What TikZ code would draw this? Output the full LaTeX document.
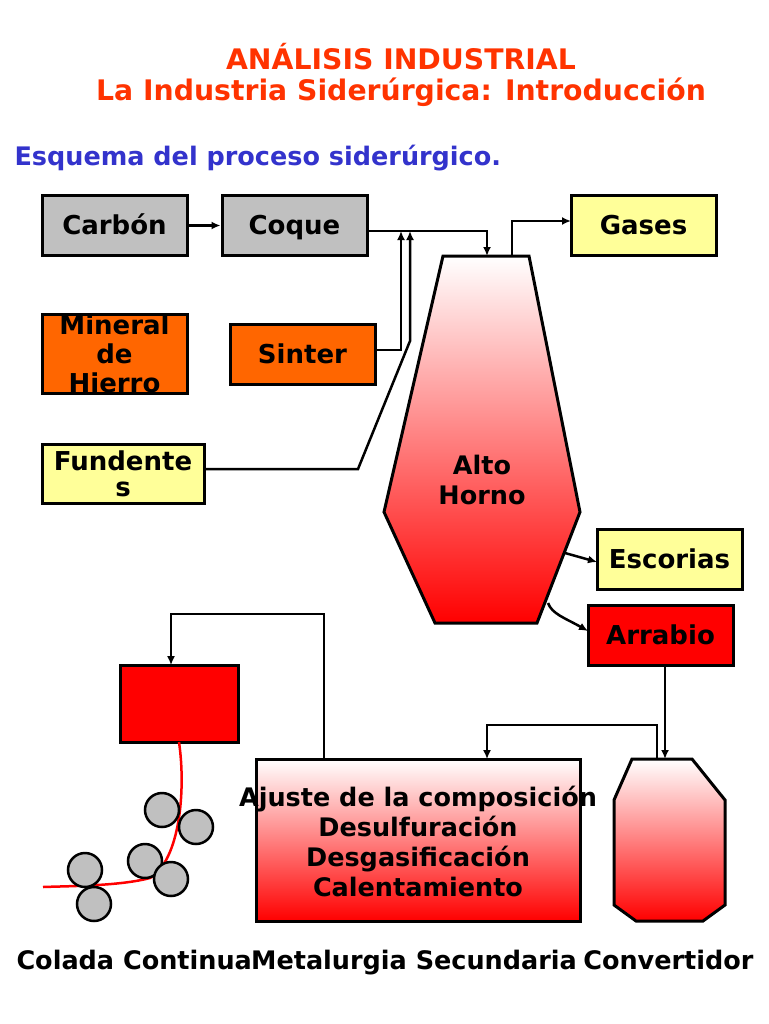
\documentclass[tikz,border=0pt]{standalone}
\usepackage{fontspec}
\setmainfont{DejaVu Sans}
\usetikzlibrary{arrows.meta}
\definecolor{tit}{HTML}{FF3300}
\definecolor{blu}{HTML}{3333CC}
\definecolor{gr}{HTML}{C0C0C0}
\definecolor{ye}{HTML}{FFFF99}
\definecolor{orn}{HTML}{FF6600}
\begin{document}
\begin{tikzpicture}[x=1pt,y=-1pt,
  box/.style={draw=black,line width=3pt,font=\bfseries\fontsize{26}{30}\selectfont,align=center},
  one/.style={text height=19pt,text depth=0pt},
  con/.style={line width=2.5pt,-{Latex[length=9pt,width=8pt]}},
  thin/.style={line width=1.5pt,-{Latex[length=9pt,width=8pt]}},
  lab/.style={font=\bfseries\fontsize{25.5}{30}\selectfont}]
\useasboundingbox (0,0) rectangle (768,1024);
\node[tit,font=\bfseries\fontsize{28.3}{34}\selectfont] (t1) at (401,57) {ANÁLISIS INDUSTRIAL};
\node[tit,font=\bfseries\fontsize{28.3}{34}\selectfont] (t2) at (401,92) {La Industria Siderúrgica: Introducción};
\node[blu,font=\bfseries\fontsize{25.5}{32}\selectfont,anchor=west] (t3) at (11,158) {Esquema del proceso siderúrgico.};
\node[box,one,fill=gr,minimum width=145pt,minimum height=59pt] (carb) at (114.5,225.5) {Carbón};
\node[box,one,fill=gr,minimum width=145pt,minimum height=59pt] (coq) at (294.5,225.5) {Coque};
\node[box,one,fill=ye,minimum width=145pt,minimum height=59pt] (gas) at (643.5,225.5) {Gases};
\node[box,fill=orn,minimum width=145pt,minimum height=76pt,inner sep=0pt] (min) at (114.5,354) {Mineral\\[-1pt]de\\[-1pt]Hierro};
\node[box,one,fill=orn,minimum width=145pt,minimum height=60pt] (sin) at (302.5,354) {Sinter};
\node[box,fill=ye,minimum width=162pt,minimum height=59pt,inner sep=0pt] (fun) at (123,473.5) {Fundente\\[-4pt]s};
\node[box,one,fill=ye,minimum width=145pt,minimum height=60pt] (esc) at (669.5,559) {Escorias};
\node[box,one,fill=red,minimum width=145pt,minimum height=60pt] (arr) at (660.5,635) {Arrabio};
\node[box,fill=red,minimum width=118pt,minimum height=77pt] (col) at (179,703.5) {};
% alto horno
\shadedraw[top color=white,bottom color=red,line width=3pt] (443,256) -- (529,256) -- (580,512) -- (537,623) -- (435,623) -- (384,512) -- cycle;
\node[lab,align=center] (ah) at (482,480) {Alto\\Horno};
\coordinate (ahtop) at (487,256);
\coordinate (ahgas) at (512,256);
% convertidor
\shadedraw[top color=white,bottom color=red,line width=3pt] (632,759) -- (692,759) -- (725,800) -- (725,905) -- (703,921) -- (636,921) -- (614,905) -- (614,800) -- cycle;
\coordinate (cvtop) at (665,759);
% secundaria
\shadedraw[top color=white,bottom color=red,line width=3pt] (256,759) rectangle (580,921);
\node[lab,align=center] (sec) at (418,841) {Ajuste de la composición\\Desulfuración\\Desgasificación\\Calentamiento};
% connectors
\draw[con] (carb) -- (coq);
\draw[con] (367,231) -- (487,231) -- (ahtop);
\draw[con] (375,350) -- (401,350) -- (401,231);
\draw[con] (204,469) -- (358,469) -- (410,341) -- (410,231);
\draw[con] (ahgas) -- (512,221) -- (571,221);
\draw[con] (565,553) -- (597,562);
\draw[con] (548,603) .. controls (552,614) and (565,618) .. (588,631);
\draw[con] (665,665) -- (cvtop);
\draw[thin] (657,759) -- (657,725) -- (487,725) -- (487,759);
\draw[thin] (324,759) -- (324,614) -- (171,614) -- (171,665);
% colada
\draw[red,line width=2.5pt] (179,742) .. controls (186,790) and (180,860) .. (150,878) .. controls (120,886) and (70,886) .. (43,887);
\foreach \p in {(162,810),(196,827),(145,861),(171,879),(85,870),(94,904)}
  \draw[fill=gr,line width=2.5pt] \p circle (17);
\node[lab,anchor=base west] (l1) at (13,969) {Colada Continua};
\node[lab,anchor=base] (l2) at (414,969) {Metalurgia Secundaria};
\node[lab,anchor=base east] (l3) at (757,969) {Convertidor};
\end{tikzpicture}
\end{document}
